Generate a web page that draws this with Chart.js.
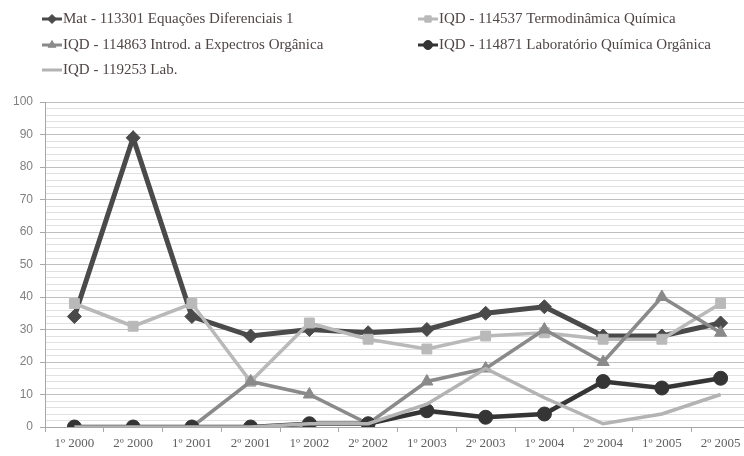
<!DOCTYPE html>
<html>
<head>
<meta charset="utf-8">
<script src="https://cdn.jsdelivr.net/npm/chart.js@4.4.1/dist/chart.umd.min.js"></script>
<style>
  html, body { margin: 0; padding: 0; background: #ffffff; overflow: hidden; }
  #wrap { position: relative; width: 760px; height: 456px; }
</style>
</head>
<body>
<div id="wrap"><canvas id="c"></canvas></div>
<script>
// Semesters on the x axis
const categories = ['1º 2000', '2º 2000', '1º 2001', '2º 2001', '1º 2002', '2º 2002',
                    '1º 2003', '2º 2003', '1º 2004', '2º 2004', '1º 2005', '2º 2005'];

// Course series (percentages per semester)
const matEqDif      = [34, 89, 34, 28, 30, 29, 30, 35, 37, 28, 28, 32];
const iqdTermo      = [38, 31, 38, 14, 32, 27, 24, 28, 29, 27, 27, 38];
const iqdEspectros  = [0, 0, 0, 14, 10, 1, 14, 18, 30, 20, 40, 29];
const iqdLabQuimOrg = [0, 0, 0, 0, 1, 1, 5, 3, 4, 14, 12, 15];
const iqdLab        = [0, 0, 0, 0, 1, 1, 7, 18, 9, 1, 4, 10];

const seriesNames = [
  'Mat - 113301 Equações Diferenciais 1',
  'IQD - 114537 Termodinâmica Química',
  'IQD - 114863 Introd. a Expectros Orgânica',
  'IQD - 114871 Laboratório Química Orgânica',
  'IQD - 119253 Lab.'
];

// Y axis: 0..100, labelled every 10, minor grid every 2
const yMin = 0, yMax = 100, yLabelStep = 10, yGridStep = 2;

const styles = [
  { color: '#4a4a4a', width: 5,   point: 'rectRot',  radius: 7 },
  { color: '#b9b9b9', width: 3.5, point: 'rect',     radius: 7 },
  { color: '#8a8a8a', width: 3.5, point: 'triangle', radius: 7 },
  { color: '#353535', width: 4.5, point: 'circle',   radius: 7 },
  { color: '#b3b3b3', width: 3.5, point: false,      radius: 0 }
];
const seriesData = [matEqDif, iqdTermo, iqdEspectros, iqdLabQuimOrg, iqdLab];

const datasets = seriesData.map((d, i) => ({
  label: seriesNames[i],
  data: d,
  borderColor: styles[i].color,
  backgroundColor: styles[i].color,
  borderWidth: styles[i].width,
  pointStyle: styles[i].point || 'circle',
  pointRadius: styles[i].radius,
  pointBorderWidth: 1,
  pointBorderColor: styles[i].color,
  pointBackgroundColor: styles[i].color,
  tension: 0,
  order: 5 - i
}));

// Two-column legend drawn above the plot
const legendPlugin = {
  id: 'twoColLegend',
  afterDraw(chart) {
    const ctx = chart.ctx;
    const cols = [42, 418];
    const rows = [19, 45, 70];
    const place = [[0, 0], [1, 0], [0, 1], [1, 1], [0, 2]];
    ctx.save();
    ctx.font = '15px "Liberation Serif", "DejaVu Serif", serif';
    ctx.textBaseline = 'middle';
    ctx.textAlign = 'left';
    chart.data.datasets.forEach((ds, i) => {
      const x = cols[place[i][0]];
      const y = rows[place[i][1]];
      ctx.strokeStyle = ds.borderColor;
      ctx.lineWidth = 3;
      ctx.beginPath();
      ctx.moveTo(x, y);
      ctx.lineTo(x + 20, y);
      ctx.stroke();
      if (ds.pointRadius > 0 && Chart.helpers && Chart.helpers.drawPoint) {
        ctx.fillStyle = ds.pointBackgroundColor;
        ctx.strokeStyle = ds.pointBorderColor;
        ctx.lineWidth = 1;
        Chart.helpers.drawPoint(ctx, { pointStyle: ds.pointStyle, radius: 4.5, rotation: 0, borderWidth: 1 }, x + 10, y);
      }
      ctx.fillStyle = '#4f4646';
      ctx.fillText(ds.label, x + 21, y);
    });
    ctx.restore();
  }
};

new Chart(document.getElementById('c'), {
  type: 'line',
  data: { labels: categories, datasets },
  plugins: [legendPlugin],
  options: {
    responsive: true,
    maintainAspectRatio: false,
    animation: false,
    layout: { padding: { top: 102, right: 10, left: 0, bottom: 0 } },
    plugins: { legend: { display: false }, tooltip: { enabled: false } },
    scales: {
      x: {
        offset: true,
        grid: {
          offset: true,
          drawOnChartArea: false,
          tickLength: 5,
          color: '#a8a8a8'
        },
        border: { color: '#a8a8a8' },
        ticks: {
          autoSkip: false,
          maxRotation: 0,
          padding: 4,
          color: '#606060',
          font: { family: '"Liberation Serif", serif', size: 13 }
        },
        afterFit(scale) { scale.height = 29; }
      },
      y: {
        min: yMin,
        max: yMax,
        ticks: {
          stepSize: yGridStep,
          autoSkip: false,
          padding: 7,
          color: '#808080',
          font: { family: '"Liberation Sans", Arial, sans-serif', size: 12 },
          callback: (v) => (v % yLabelStep === 0 ? v : '')
        },
        grid: {
          tickLength: 5,
          color: (c) => (c.tick && c.tick.value % yLabelStep === 0 ? '#c0c0c0' : '#e0e0e0'),
          tickColor: (c) => (c.tick && c.tick.value % yLabelStep === 0 ? '#a8a8a8' : 'rgba(0,0,0,0)')
        },
        border: { color: '#a8a8a8' },
        afterFit(scale) { scale.width = 45; }
      }
    }
  }
});
</script>
</body>
</html>
